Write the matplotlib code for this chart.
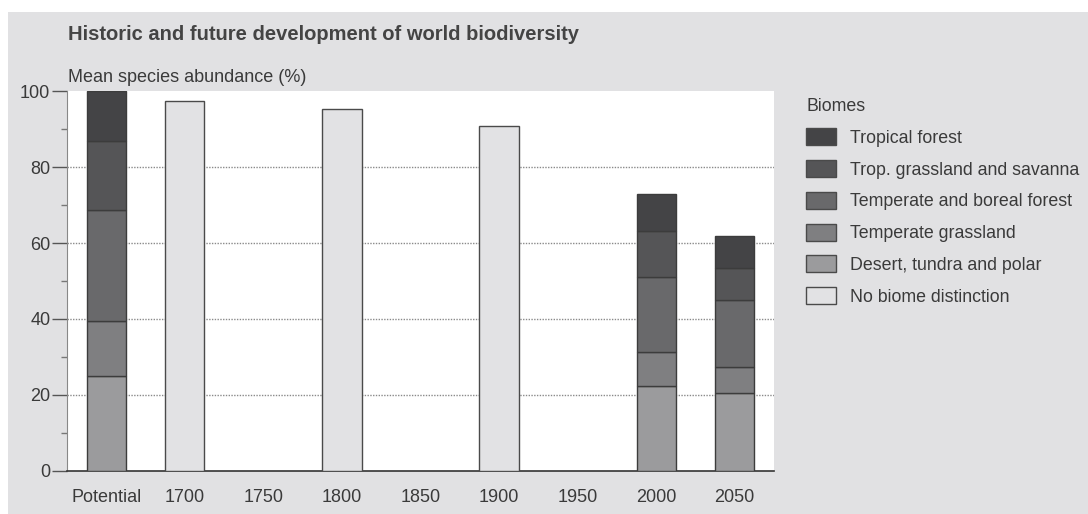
import matplotlib.pyplot as plt
from matplotlib.patches import Patch, Rectangle
import numpy as np

plt.rcParams['font.family'] = ['Liberation Sans', 'DejaVu Sans']

# Data
categories = ['Potential', '1700', '1750', '1800', '1850', '1900', '1950', '2000', '2050']
desert = [25.0, 0, 0, 0, 0, 0, 0, 22.4, 20.4]
temp_grass = [14.5, 0, 0, 0, 0, 0, 0, 8.9, 6.8]
temp_forest = [29.2, 0, 0, 0, 0, 0, 0, 19.8, 17.8]
trop_grass = [18.3, 0, 0, 0, 0, 0, 0, 12.2, 8.3]
trop_forest = [13.0, 0, 0, 0, 0, 0, 0, 9.6, 8.6]
no_biome = [0, 97.4, 0, 95.5, 0, 91.0, 0, 0, 0]
labels = ['Tropical forest', 'Trop. grassland and savanna', 'Temperate and boreal forest',
          'Temperate grassland', 'Desert, tundra and polar', 'No biome distinction']

biome_colors = ['#9b9b9d', '#7f7f81', '#69696b', '#555557', '#444446']
no_biome_color = '#e2e2e4'
bg = '#e1e1e3'
text_col = '#3a3a3a'

fig = plt.figure(figsize=(10.88, 5.14), dpi=100)
fig.patch.set_facecolor('white')
fig.patches.append(Rectangle((8 / 1088, 0), 1, 1 - 12 / 514, transform=fig.transFigure,
                             facecolor=bg, edgecolor='none', zorder=-10))

ax = fig.add_axes([67 / 1088, 1 - 470.5 / 514, (774 - 67) / 1088, (470.5 - 91.5) / 514])
ax.set_facecolor('white')

x = np.arange(len(categories))
width = 0.5
bottom = np.zeros(len(categories))
for vals, col in zip([desert, temp_grass, temp_forest, trop_grass, trop_forest], biome_colors):
    vals = np.array(vals)
    mask = vals > 0
    ax.bar(x[mask], vals[mask], width, bottom=bottom[mask], color=col,
           edgecolor='#3c3c3c', linewidth=1, zorder=3)
    bottom += vals
nb = np.array(no_biome)
m = nb > 0
ax.bar(x[m], nb[m], width, color=no_biome_color, edgecolor='#4a4a4a', linewidth=1, zorder=3)

for yv in [20, 40, 60, 80]:
    ax.axhline(yv, color='#8a8a8a', linestyle=(0, (1, 1)), linewidth=1, zorder=1)

ax.set_xlim(-0.5, len(categories) - 0.5)
ax.set_ylim(0, 100)
ax.set_xticks(x)
ax.set_xticklabels(categories)
ax.set_yticks(np.arange(0, 101, 20))
ax.set_yticks(np.arange(10, 100, 20), minor=True)
ax.tick_params(axis='x', length=0, pad=13, labelsize=13, colors=text_col)
ax.tick_params(axis='y', which='major', length=11, width=1, color='#555555', labelsize=13,
               colors=text_col, pad=1)
ax.tick_params(axis='y', which='minor', length=4, width=1, color='#777777')
for s in ['top', 'right']:
    ax.spines[s].set_visible(False)
ax.spines['left'].set_color('#888888')
ax.spines['bottom'].set_color('#333333')
ax.spines['bottom'].set_linewidth(1.2)

fig.text(68 / 1088, 1 - 35 / 514, 'Historic and future development of world biodiversity',
         fontsize=14.5, fontweight='bold', color='#444444', va='center')
fig.text(68 / 1088, 1 - 77 / 514, 'Mean species abundance (%)', fontsize=13,
         color=text_col, va='center')

cols = biome_colors[::-1] + [no_biome_color]
handles = [Patch(facecolor=c, edgecolor='#4a4a4a', linewidth=1) for c in cols]
leg = fig.legend(handles, labels, title='Biomes', loc='upper left',
                 bbox_to_anchor=(792 / 1088, 1 - 84 / 514), frameon=False,
                 fontsize=12.8, title_fontsize=12.8, handlelength=1.65, handleheight=1.1,
                 labelspacing=0.74, handletextpad=0.8, borderpad=0.3)
leg._legend_box.align = 'left'
for t in leg.get_texts():
    t.set_color(text_col)
leg.get_title().set_color(text_col)

fig.savefig('out.png', dpi=100, facecolor=fig.get_facecolor())
